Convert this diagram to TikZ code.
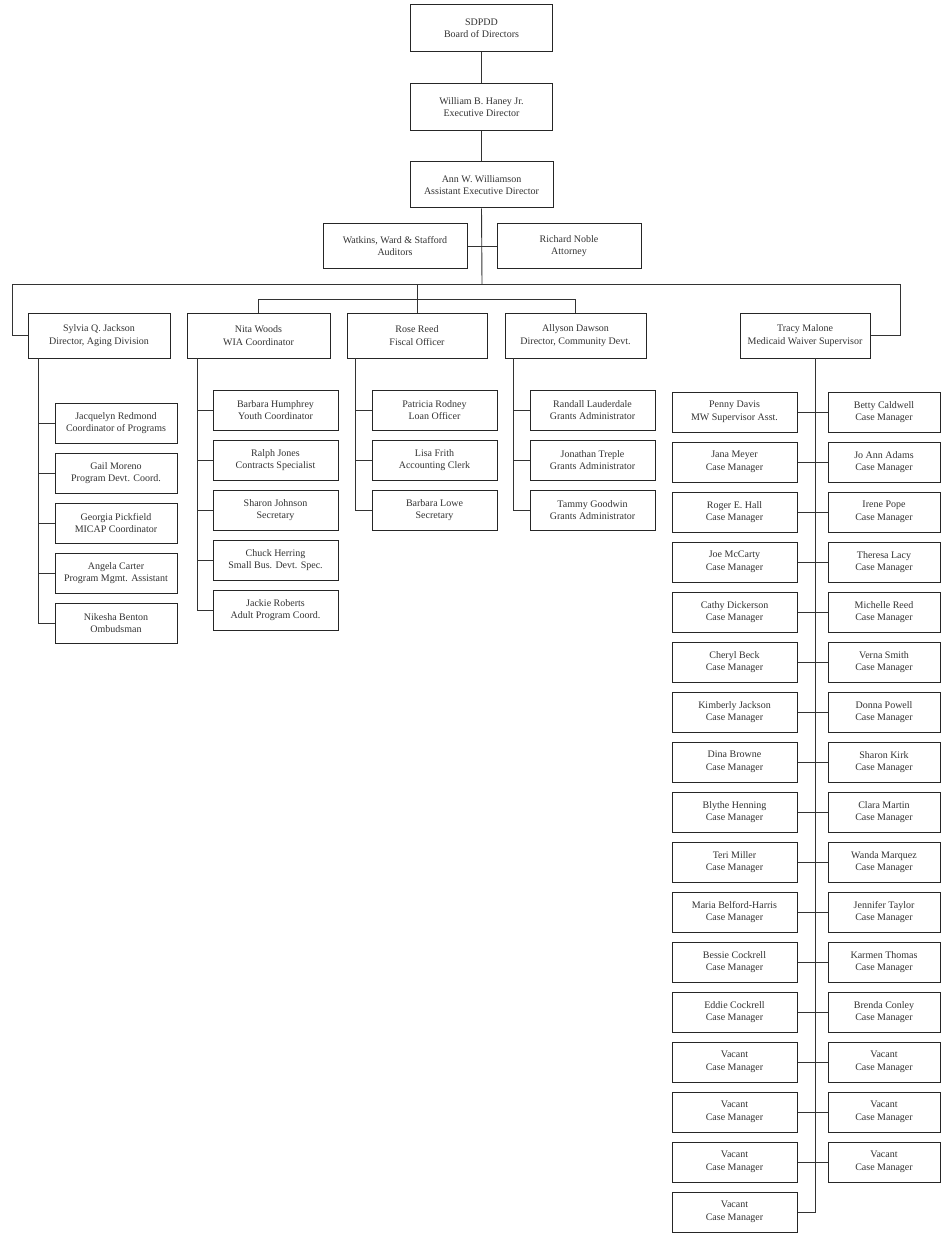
\documentclass[tikz,border=0pt]{standalone}
\usepackage{fontspec}
\setmainfont{Liberation Serif}
\begin{document}
\begin{tikzpicture}[x=1pt,y=-1pt,
  box/.style={draw=black!85, line width=1pt, fill=white, align=center, inner sep=0pt,
    font=\fontsize{10}{12.5}\selectfont, text=black!80},
  link/.style={draw=black!80, line width=0.9pt},
  top/.style={box, minimum width=142pt, minimum height=47pt},
  head/.style={box, minimum height=45pt},
  sub/.style={box, minimum width=125pt, minimum height=40pt}]
\useasboundingbox[fill=white] (0,0) rectangle (942,1233);

% top chain
\node[top] (board) at (481.5,28) {SDPDD\\Board of Directors};
\node[top] (exec) at (481.5,107) {William B. Haney Jr.\\Executive Director};
\node[top, minimum width=143pt, minimum height=46pt] (asst) at (481.5,185) {Ann W. Williamson\\Assistant Executive Director};
\node[box, minimum width=144pt, minimum height=44pt] (aud) at (395,246) {Watkins, Ward \& Stafford\\Auditors};
\node[box, minimum width=144pt, minimum height=44pt] (att) at (569,246) {Richard Noble\\Attorney};

\draw[link] (board) -- (exec);
\draw[link] (exec) -- (asst);
\coordinate (bar) at (482,284);
\draw[link] (asst.south) -- (bar);
\draw[link] (aud.east) -- (att.west);

% division heads
\node[head, minimum width=142pt] (sylvia) at (99,335.5) {Sylvia Q. Jackson\\Director, Aging Division};
\node[head, minimum width=143pt] (nita) at (258.5,335.5) {Nita Woods\\WIA Coordinator};
\node[head, minimum width=140pt] (rose) at (417,335.5) {Rose Reed\\Fiscal Officer};
\node[head, minimum width=141pt] (allyson) at (575.5,335.5) {Allyson Dawson\\Director, Community Devt.};
\node[head, minimum width=130pt] (tracy) at (805,335.5) {Tracy Malone\\Medicaid Waiver Supervisor};

\coordinate (barL) at (12,284);
\coordinate (barR) at (900,284);
\draw[link] (sylvia.west) -| (barL) -- (barR) |- (tracy.east);
\draw[link] (rose.north) -- (rose.north |- bar);
\draw[link] (nita.north) -- ++(0,-13) -| (allyson.north);

% Sylvia
\coordinate (syT) at (38,358);
\foreach \k/\n/\t [evaluate=\k as \cy using {423+50*(\k-1)}] in
 {1/Jacquelyn Redmond/Coordinator of Programs,
  2/Gail Moreno/Program Devt. Coord.,
  3/Georgia Pickfield/MICAP Coordinator,
  4/Angela Carter/Program Mgmt. Assistant,
  5/Nikesha Benton/Ombudsman}{
  \node[sub, minimum width=122pt] (sy\k) at (116,\cy) {\n\\\t};
  \draw[link] (sy\k.west) -- (sy\k.west -| syT);
}
\draw[link] (syT) |- (sy5.west);

% Nita
\coordinate (niT) at (197,358);
\foreach \k/\n/\t [evaluate=\k as \cy using {410+50*(\k-1)}] in
 {1/Barbara Humphrey/Youth Coordinator,
  2/Ralph Jones/Contracts Specialist,
  3/Sharon Johnson/Secretary,
  4/Chuck Herring/Small Bus. Devt. Spec.,
  5/Jackie Roberts/Adult Program Coord.}{
  \node[sub] (ni\k) at (275.5,\cy) {\n\\\t};
  \draw[link] (ni\k.west) -- (ni\k.west -| niT);
}
\draw[link] (niT) |- (ni5.west);

% Rose
\coordinate (roT) at (355,358);
\foreach \k/\n/\t [evaluate=\k as \cy using {410+50*(\k-1)}] in
 {1/Patricia Rodney/Loan Officer,
  2/Lisa Frith/Accounting Clerk,
  3/Barbara Lowe/Secretary}{
  \node[sub] (ro\k) at (434.5,\cy) {\n\\\t};
  \draw[link] (ro\k.west) -- (ro\k.west -| roT);
}
\draw[link] (roT) |- (ro3.west);

% Allyson
\coordinate (alT) at (513,358);
\foreach \k/\n/\t [evaluate=\k as \cy using {410+50*(\k-1)}] in
 {1/Randall Lauderdale/Grants Administrator,
  2/Jonathan Treple/Grants Administrator,
  3/Tammy Goodwin/Grants Administrator}{
  \node[sub] (al\k) at (592.5,\cy) {\n\\\t};
  \draw[link] (al\k.west) -- (al\k.west -| alT);
}
\draw[link] (alT) |- (al3.west);

% Tracy
\coordinate (trT) at (815,358);
\foreach \k/\n/\t/\r [evaluate=\k as \cy using {412+50*(\k-1)}] in
 {1/Penny Davis/MW Supervisor Asst./Betty Caldwell,
  2/Jana Meyer/Case Manager/Jo Ann Adams,
  3/Roger E. Hall/Case Manager/Irene Pope,
  4/Joe McCarty/Case Manager/Theresa Lacy,
  5/Cathy Dickerson/Case Manager/Michelle Reed,
  6/Cheryl Beck/Case Manager/Verna Smith,
  7/Kimberly Jackson/Case Manager/Donna Powell,
  8/Dina Browne/Case Manager/Sharon Kirk,
  9/Blythe Henning/Case Manager/Clara Martin,
  10/Teri Miller/Case Manager/Wanda Marquez,
  11/Maria Belford-Harris/Case Manager/Jennifer Taylor,
  12/Bessie Cockrell/Case Manager/Karmen Thomas,
  13/Eddie Cockrell/Case Manager/Brenda Conley,
  14/Vacant/Case Manager/Vacant,
  15/Vacant/Case Manager/Vacant,
  16/Vacant/Case Manager/Vacant}{
  \node[sub] (tl\k) at (734.5,\cy) {\n\\\t};
  \node[sub, minimum width=112pt] (tr\k) at (884,\cy) {\r\\Case Manager};
  \draw[link] (tl\k.east) -- (tr\k.west);
}
\node[sub] (tl17) at (734.5,1212) {Vacant\\Case Manager};
\draw[link] (trT) |- (tl17.east);
\end{tikzpicture}
\end{document}
